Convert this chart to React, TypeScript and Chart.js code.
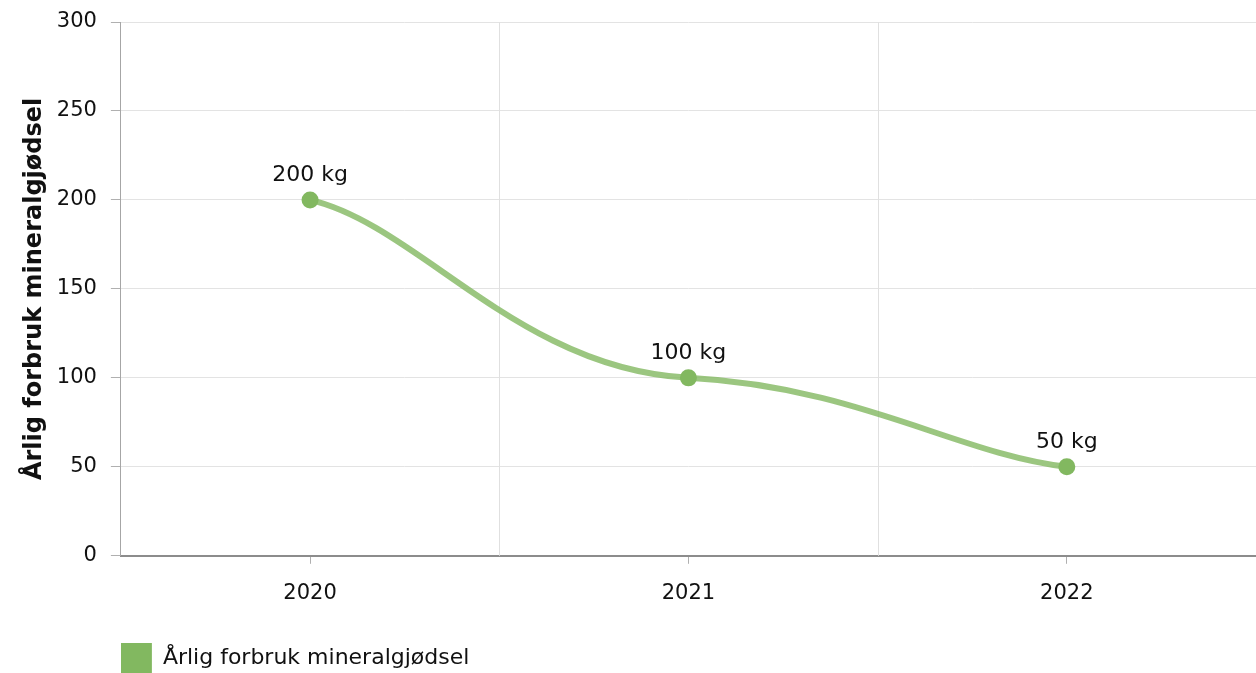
import React, { useEffect, useRef } from "react";
import { Chart, registerables } from "chart.js";

Chart.register(...registerables);

const categories = ["2020", "2021", "2022"];
const seriesName = "Årlig forbruk mineralgjødsel";
const seriesValues = [200, 100, 50];
const valueUnit = "kg";
const yAxisTitle = "Årlig forbruk mineralgjødsel";
const yMin = 0;
const yMax = 300;
const yStep = 50;

const FONT = "'DejaVu Sans', Verdana, sans-serif";
const POINT_COLOR = "#82b860";
const LINE_COLOR = "rgba(130,184,96,0.8)";

// Vertical grid lines between categories (drawn from the x scale)
const betweenGrid = {
  id: "betweenGrid",
  beforeDatasetsDraw(chart: any) {
    const x = chart.scales.x;
    const { top, bottom } = chart.chartArea;
    const ctx = chart.ctx;
    ctx.save();
    ctx.strokeStyle = "#e0e0e0";
    ctx.lineWidth = 1;
    for (let i = 0; i < categories.length - 1; i++) {
      const px = Math.round((x.getPixelForValue(i) + x.getPixelForValue(i + 1)) / 2) + 0.5;
      ctx.beginPath();
      ctx.moveTo(px, top);
      ctx.lineTo(px, bottom);
      ctx.stroke();
    }
    ctx.restore();
  },
};

// Smooth curve control points, derived from the drawn points
const smoothCurve = {
  id: "smoothCurve",
  beforeDatasetDraw(chart: any, args: any) {
    const meta = args.meta;
    const line = meta.dataset;
    if (!line) return;
    line.updateControlPoints(chart.chartArea, "x");
    const pts = meta.data;
    for (let i = 0; i < pts.length; i++) {
      const p = pts[i];
      const prev = pts[i - 1];
      const next = pts[i + 1];
      if (prev && next) {
        const m = 0.15 * (next.y - prev.y) / (next.x - prev.x);
        const hl = 0.45 * (p.x - prev.x);
        const hr = 0.45 * (next.x - p.x);
        p.cp1x = p.x - hl;
        p.cp1y = p.y - hl * m;
        p.cp2x = p.x + hr;
        p.cp2y = p.y + hr * m;
      } else if (next) {
        const m = 0.5 * (next.y - p.y) / (next.x - p.x);
        const h = 0.29 * (next.x - p.x);
        p.cp1x = p.x;
        p.cp1y = p.y;
        p.cp2x = p.x + h;
        p.cp2y = p.y + h * m;
      } else if (prev) {
        const m = 0.5 * (p.y - prev.y) / (p.x - prev.x);
        const h = 0.29 * (p.x - prev.x);
        p.cp1x = p.x - h;
        p.cp1y = p.y - h * m;
        p.cp2x = p.x;
        p.cp2y = p.y;
      }
    }
  },
};

const valueLabels = {
  id: "valueLabels",
  afterDatasetsDraw(chart: any) {
    const ctx = chart.ctx;
    ctx.save();
    ctx.font = `22px ${FONT}`;
    ctx.fillStyle = "#111";
    ctx.textAlign = "center";
    ctx.textBaseline = "middle";
    chart.data.datasets.forEach((ds: any, di: number) => {
      const meta = chart.getDatasetMeta(di);
      meta.data.forEach((pt: any, i: number) => {
        ctx.fillText(`${ds.data[i]} ${valueUnit}`, pt.x, pt.y - 25);
      });
    });
    ctx.restore();
  },
};

export default function App() {
  const ref = useRef<HTMLCanvasElement | null>(null);

  useEffect(() => {
    document.body.style.margin = "0";
    if (!ref.current) return;
    const chart = new Chart(ref.current, {
      type: "line",
      data: {
        labels: categories,
        datasets: [
          {
            label: seriesName,
            data: seriesValues,
            borderColor: LINE_COLOR,
            backgroundColor: POINT_COLOR,
            borderWidth: 6,
            tension: 0.4,
            pointRadius: 8.5,
            pointBackgroundColor: POINT_COLOR,
            pointBorderWidth: 0,
            pointHoverRadius: 8.5,
            fill: false,
          },
        ],
      },
      plugins: [betweenGrid, smoothCurve, valueLabels],
      options: {
        animation: false,
        responsive: false,
        devicePixelRatio: 1,
        layout: {
          autoPadding: false,
          padding: { top: 22, right: 0, left: 0, bottom: -10 },
        },
        font: { family: FONT, size: 21 },
        plugins: {
          tooltip: { enabled: false },
          legend: {
            position: "bottom",
            align: "start",
            fullSize: false,
            labels: {
              boxWidth: 31,
              boxHeight: 30,
              padding: 0,
              color: "#111",
              font: { family: FONT, size: 22 },
              generateLabels: (chart: any) =>
                Chart.defaults.plugins.legend.labels
                  .generateLabels(chart)
                  .map((l: any) => ({
                    ...l,
                    fillStyle: POINT_COLOR,
                    strokeStyle: POINT_COLOR,
                    lineWidth: 0,
                  })),
            },
          },
        },
        scales: {
          x: {
            type: "category",
            offset: true,
            afterFit: (scale: any) => {
              scale.height += 20;
              scale.paddingLeft = 0;
              scale.paddingRight = 0;
            },
            grid: {
              offset: false,
              drawOnChartArea: false,
              drawTicks: true,
              tickLength: 8,
              tickColor: "#b0b0b0",
            },
            border: { display: true, color: "#8c8c8c", width: 2 },
            ticks: {
              color: "#111",
              padding: 17,
              font: { family: FONT, size: 21 },
            },
          },
          y: {
            min: yMin,
            max: yMax,
            afterFit: (scale: any) => {
              scale.paddingTop = 0;
              scale.paddingBottom = 0;
            },
            ticks: {
              stepSize: yStep,
              color: "#111",
              padding: 14,
              font: { family: FONT, size: 21 },
            },
            grid: {
              color: "#e3e3e3",
              tickColor: "#b0b0b0",
              tickLength: 10,
            },
            border: { display: true, color: "#a6a6a6", width: 1 },
            title: {
              display: true,
              text: yAxisTitle,
              color: "#111",
              padding: { top: 20, bottom: -6 },
              font: { family: FONT, size: 24, weight: "bold" },
            },
          },
        },
      },
    });
    return () => chart.destroy();
  }, []);

  return (
    <div style={{ width: 1256, height: 673, position: "relative" }}>
      <canvas ref={ref} width={1256} height={673} style={{ display: "block" }} />
    </div>
  );
}
